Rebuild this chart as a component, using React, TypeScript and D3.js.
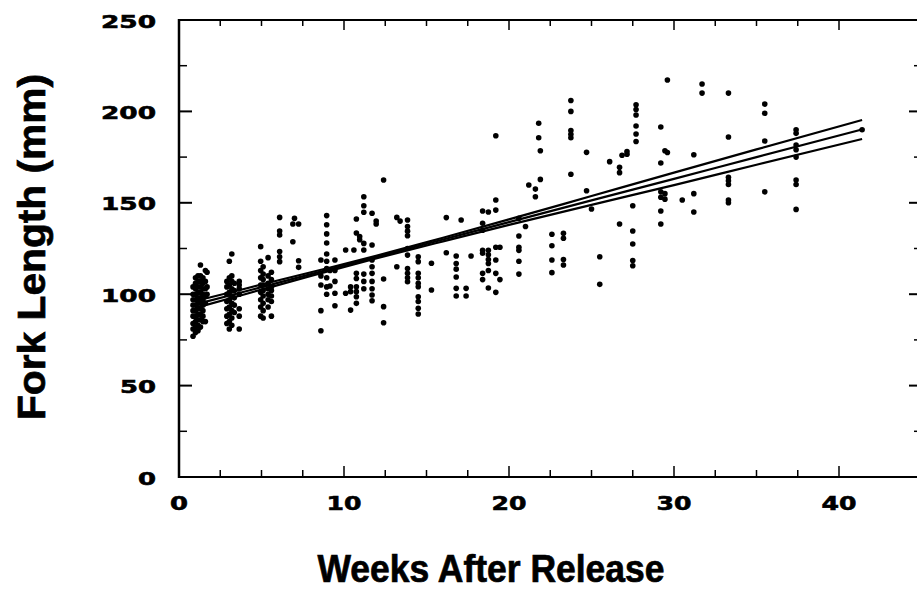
import React from "react";
import * as d3 from "d3";

// ---- data ----
const sampleWeeks: number[] = [
  0.85, 1.0, 1.15, 1.3, 1.45, 1.6, 1.7,
  2.9, 3.05, 3.2, 3.35, 3.65,
  4.95, 5.1, 5.4, 5.6,
  6.1, 6.9, 7.0, 7.25,
  8.6, 8.95, 9.15, 9.45,
  10.1, 10.4, 10.6, 10.75, 10.95, 11.2, 11.7, 11.95, 12.4,
  13.2, 13.4, 13.85, 14.5, 15.3, 16.2, 16.8, 17.1, 17.4, 17.7,
  18.4, 18.75, 19.2, 19.45,
  20.6, 21.0, 21.2, 21.6, 21.8, 21.9, 22.6, 23.3, 23.75, 24.7, 25.0, 25.5,
  26.1, 26.7, 26.85, 27.15, 27.5, 27.7,
  29.2, 29.45, 29.6, 30.5, 31.2, 31.7, 33.3, 35.5, 37.4, 41.4,
];

const sampleLengths: number[][] = [
  [77, 81, 84, 88, 91, 94, 97, 100, 104],
  [79, 82, 85, 88, 91, 94, 97, 100, 103, 106, 109],
  [80, 83, 86, 89, 92, 95, 98, 101, 104, 107, 110],
  [82, 86, 89, 92, 95, 98, 101, 104, 107, 110, 116],
  [85, 88, 91, 94, 97, 100, 103, 106, 109],
  [85, 95, 99, 103, 107, 113],
  [100, 104, 112],
  [84, 88, 92, 96, 100, 104, 107],
  [81, 85, 89, 93, 97, 101, 105, 109, 118],
  [83, 87, 91, 95, 99, 103, 107, 110, 122],
  [90, 94, 98, 102, 106],
  [81, 88, 92, 100, 103, 105, 107],
  [88, 93, 97, 101, 105, 109, 113, 118, 126],
  [87, 91, 95, 99, 102, 105, 108, 111, 115],
  [93, 97, 100, 103, 106, 110, 120],
  [88, 96, 99, 102, 104, 108, 112],
  [142, 134.6, 132.4, 123.3, 120.5, 117.8],
  [138.4, 128.7],
  [141.5],
  [138.4, 118.3, 114.7],
  [80, 91, 105, 110, 118.7],
  [143, 138, 133, 128, 122, 118, 114, 109, 104, 100],
  [104.5, 113],
  [93.7, 100.5, 107, 113, 118.7],
  [124.2, 100.5],
  [104, 101.4, 91.3],
  [124.2],
  [141.1, 133.5, 111.4, 108.6, 104.1, 101.4, 98.6, 95],
  [131.5, 129.8],
  [153.3, 148.4, 144.8, 127.8, 124.2, 111, 107, 103],
  [144.3, 126.9, 118.7, 115, 111.4, 107, 103, 99.6, 96.4],
  [140, 138.4],
  [162.5, 108.3, 93.2, 84.4],
  [142, 115],
  [140],
  [140.6, 137, 134.5, 132, 125, 121.4, 114, 111.5, 109, 106.8],
  [120.5, 117.8, 111.4, 109, 106, 104.1, 98.6, 96, 92.3, 89.2],
  [116.9, 102.3],
  [141.9, 122.7],
  [120.9, 116.8, 113.7, 109.4, 103.2, 99],
  [140.6],
  [103.2, 99],
  [120.9],
  [145.5, 138.8, 135, 124, 122.4, 111.4, 108],
  [145, 124, 121.6, 119, 116.8, 113, 103.4],
  [186.7, 151.5, 146, 125.7, 118.7, 111.4, 101],
  [125.7, 108],
  [141.5, 131.8, 125.7, 124, 118, 111],
  [137],
  [159.7],
  [157.5, 153.3],
  [193.5, 185.6],
  [178.5, 162.8],
  [132.8, 126.5, 118.7, 111.8],
  [133.3, 130.6, 119, 116],
  [206, 200, 189.5, 187.5, 185.6, 165.6],
  [177.6, 156.6],
  [146.6],
  [120.5, 105.4],
  [172.5],
  [169.4, 166.5, 138.4],
  [176],
  [176.6, 178],
  [148.4, 134.6, 127.5, 118.4, 115.6],
  [203.6, 201, 198, 192, 187.6, 183.5],
  [191.5, 171.8, 156, 153, 145.5, 138.4],
  [178.5, 155, 152],
  [217.2, 177.5],
  [151.5],
  [176.3, 155, 145],
  [215, 210],
  [210, 186, 164, 162, 160, 151.5, 150],
  [204, 199, 183.8, 156],
  [190, 188, 181.6, 179, 175, 162.5, 160, 146.4],
  [190],
];

// regression line and its confidence band
const fitWeeks: number[] = [1, 4, 8, 12, 16, 20, 25, 30, 35, 41.4];
const fitCenter: number[] = [94.4, 101.5, 111.0, 120.4, 129.9, 139.4, 151.3, 163.1, 175.0, 190.1];
const fitUpper: number[] = [96.3, 103.0, 112.0, 121.1, 130.9, 140.9, 153.7, 166.5, 179.2, 195.3];
const fitLower: number[] = [92.5, 100.0, 110.0, 119.7, 128.9, 137.9, 148.9, 159.7, 170.8, 184.9];

const xMajorTicks: number[] = [0, 10, 20, 30, 40];
const xMinorTicks: number[] = [2.5, 5, 7.5, 12.5, 15, 17.5, 22.5, 25, 27.5, 32.5, 35, 37.5];
const yMajorTicks: number[] = [50, 100, 150, 200];
const yMinorTicks: number[] = [25, 75, 125, 175, 225];
const yTickLabels: number[] = [0, 50, 100, 150, 200, 250];

const xTitle = "Weeks After Release";
const yTitle = "Fork Length  (mm)";

export default function App() {
  const W = 917;
  const H = 593;
  const x = d3.scaleLinear().domain([0, 40]).range([179, 839]);
  const y = d3.scaleLinear().domain([0, 250]).range([477, 20]);
  const left = x(0);
  const right = 917;
  const top = y(250);
  const bottom = y(0);

  const line = d3
    .line<[number, number]>()
    .x((d) => x(d[0]))
    .y((d) => y(d[1]))
    .curve(d3.curveMonotoneX);

  const pts: [number, number][] = [];
  sampleWeeks.forEach((w, i) => sampleLengths[i].forEach((v) => pts.push([w, v])));

  const toPairs = (vals: number[]) => fitWeeks.map((w, i) => [w, vals[i]] as [number, number]);

  const tickFont = "'DejaVu Sans', sans-serif";
  const titleFont = "'Liberation Sans', Arial, sans-serif";

  return (
    <svg
      width={W}
      height={H}
      style={{ position: "absolute", left: 0, top: 0, background: "#fff" }}
    >
      <rect x={0} y={0} width={W} height={H} fill="#fff" />
      {/* axes frame */}
      <line x1={left} x2={left} y1={top - 1} y2={bottom + 1} stroke="#000" strokeWidth={2.5} />
      <line x1={left} x2={right} y1={bottom} y2={bottom} stroke="#000" strokeWidth={2} />
      <line x1={left} x2={right} y1={top} y2={top} stroke="#000" strokeWidth={2} />

      {/* x ticks bottom and top */}
      {xMajorTicks.map((t) => (
        <g key={"xM" + t}>
          <line x1={x(t)} x2={x(t)} y1={bottom} y2={bottom - 11} stroke="#000" strokeWidth={1.5} />
          <line x1={x(t)} x2={x(t)} y1={top} y2={top + 10} stroke="#000" strokeWidth={1.5} />
          <text
            x={x(t)}
            y={510}
            textAnchor="middle"
            fontFamily={tickFont}
            fontWeight="bold"
            fontSize={20}
            stroke="#000"
            strokeWidth={0.6}
            textLength={String(t).length === 1 ? 18 : 35}
            lengthAdjust="spacingAndGlyphs"
          >
            {t}
          </text>
        </g>
      ))}
      {xMinorTicks.map((t) => (
        <g key={"xm" + t}>
          <line x1={x(t)} x2={x(t)} y1={bottom} y2={bottom - 7} stroke="#000" strokeWidth={1.5} />
          <line x1={x(t)} x2={x(t)} y1={top} y2={top + 6} stroke="#000" strokeWidth={1.5} />
        </g>
      ))}

      {/* y ticks left and right */}
      {yMajorTicks.map((t) => (
        <g key={"yM" + t}>
          <line x1={left} x2={left + 13} y1={y(t)} y2={y(t)} stroke="#000" strokeWidth={2} />
          <line x1={right} x2={right - 8} y1={y(t)} y2={y(t)} stroke="#000" strokeWidth={2} />
        </g>
      ))}
      {yMinorTicks.map((t) => (
        <g key={"ym" + t}>
          <line x1={left} x2={left + 8} y1={y(t)} y2={y(t)} stroke="#000" strokeWidth={1.5} />
          <line x1={right} x2={right - 3} y1={y(t)} y2={y(t)} stroke="#000" strokeWidth={1.5} />
        </g>
      ))}
      {yTickLabels.map((t) => {
        const s = String(t);
        const len = s.length === 1 ? 18 : s.length === 2 ? 36 : 55;
        return (
          <text
            key={"yl" + t}
            x={156 - len}
            y={y(t) + 7.5}
            fontFamily={tickFont}
            fontWeight="bold"
            fontSize={18}
            stroke="#000"
            strokeWidth={0.6}
            textLength={len}
            lengthAdjust="spacingAndGlyphs"
          >
            {s}
          </text>
        );
      })}

      {/* regression line with confidence limits */}
      <path d={line(toPairs(fitUpper)) || ""} fill="none" stroke="#000" strokeWidth={2.2} />
      <path d={line(toPairs(fitCenter)) || ""} fill="none" stroke="#000" strokeWidth={2.2} />
      <path d={line(toPairs(fitLower)) || ""} fill="none" stroke="#000" strokeWidth={2.2} />

      {/* data points */}
      {pts.map((p, i) => (
        <circle key={"p" + i} cx={x(p[0])} cy={y(p[1])} r={2.8} fill="#000" />
      ))}

      {/* titles */}
      <text
        x={491}
        y={582}
        textAnchor="middle"
        fontFamily={titleFont}
        fontWeight="bold"
        fontSize={38}
        stroke="#000"
        strokeWidth={0.7}
        textLength={347}
        lengthAdjust="spacingAndGlyphs"
      >
        {xTitle}
      </text>
      <text
        transform="translate(45,247) rotate(-90)"
        textAnchor="middle"
        fontFamily={titleFont}
        fontWeight="bold"
        fontSize={38}
        stroke="#000"
        strokeWidth={0.7}
        textLength={346}
        lengthAdjust="spacingAndGlyphs"
      >
        {yTitle}
      </text>
    </svg>
  );
}
